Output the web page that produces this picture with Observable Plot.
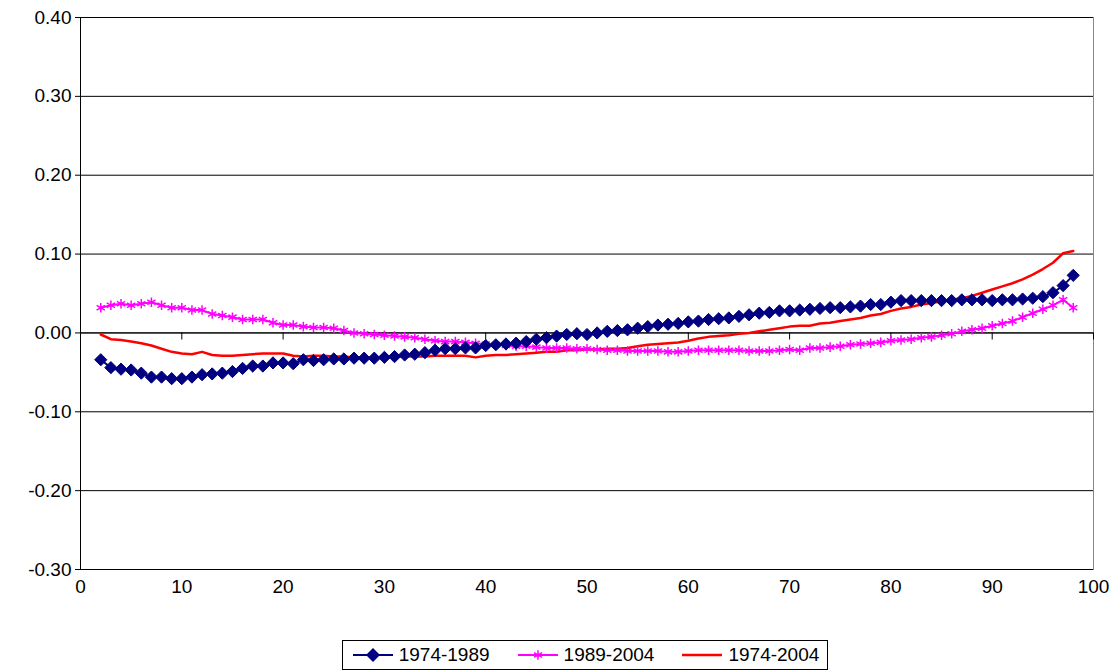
<!DOCTYPE html>
<html>
<head>
<meta charset="utf-8">
<script src="https://cdn.jsdelivr.net/npm/d3@7"></script>
<script src="https://cdn.jsdelivr.net/npm/@observablehq/plot@0.6"></script>
<style>
  body { margin: 0; background: white; font-family: "Liberation Sans", Arial, sans-serif; }
  #legend { display: flex; justify-content: center; margin-top: 40px; padding-left: 50px; }
  #legend .box { border: 1px solid black; display: flex; gap: 26px; padding: 3px 8px; font-size: 19px; }
  #legend .item { display: flex; align-items: center; gap: 4px; }
</style>
</head>
<body>
<div id="chart"></div>
<div id="legend"></div>
<script>
let percentiles = d3.range(2, 99); // 2..98

let s7489 = [-0.034,-0.044,-0.046,-0.047,-0.051,-0.056,-0.056,-0.058,-0.058,-0.056,-0.053,-0.052,-0.051,-0.049,-0.045,-0.042,-0.042,-0.038,-0.038,-0.039,
  -0.034,-0.035,-0.034,-0.033,-0.033,-0.032,-0.032,-0.032,-0.031,-0.030,-0.028,-0.027,-0.025,-0.022,-0.020,-0.020,-0.019,-0.019,-0.016,-0.015,
  -0.014,-0.013,-0.011,-0.008,-0.006,-0.004,-0.002,-0.001,-0.002,0.000,0.002,0.003,0.004,0.006,0.008,0.010,0.011,0.012,0.014,0.015,
  0.017,0.018,0.019,0.021,0.023,0.025,0.026,0.028,0.028,0.029,0.030,0.031,0.032,0.032,0.033,0.034,0.036,0.036,0.039,0.041,
  0.041,0.041,0.041,0.041,0.041,0.042,0.042,0.042,0.041,0.042,0.042,0.043,0.044,0.046,0.051,0.060,0.073];

let s8904 = [0.032,0.035,0.037,0.035,0.037,0.039,0.035,0.032,0.032,0.029,0.029,0.024,0.022,0.020,0.017,0.017,0.017,0.013,0.010,0.010,
  0.008,0.007,0.007,0.006,0.003,0.000,-0.001,-0.002,-0.003,-0.004,-0.005,-0.006,-0.008,-0.010,-0.011,-0.011,-0.012,-0.013,-0.014,-0.015,
  -0.016,-0.017,-0.017,-0.018,-0.019,-0.019,-0.019,-0.020,-0.020,-0.021,-0.022,-0.022,-0.023,-0.023,-0.023,-0.023,-0.024,-0.024,-0.023,-0.022,
  -0.022,-0.022,-0.022,-0.022,-0.023,-0.023,-0.023,-0.022,-0.021,-0.022,-0.019,-0.019,-0.018,-0.017,-0.015,-0.014,-0.013,-0.012,-0.010,-0.009,
  -0.008,-0.006,-0.005,-0.003,-0.001,0.002,0.004,0.006,0.009,0.012,0.015,0.020,0.025,0.030,0.035,0.042,0.032];

let s7404 = [-0.002,-0.008,-0.009,-0.011,-0.013,-0.016,-0.020,-0.024,-0.026,-0.027,-0.024,-0.028,-0.029,-0.029,-0.028,-0.027,-0.026,-0.026,-0.026,-0.029,
  -0.030,-0.029,-0.029,-0.030,-0.030,-0.031,-0.031,-0.031,-0.031,-0.030,-0.030,-0.030,-0.030,-0.029,-0.029,-0.029,-0.029,-0.031,-0.029,-0.028,
  -0.028,-0.027,-0.026,-0.025,-0.024,-0.024,-0.022,-0.022,-0.021,-0.021,-0.020,-0.020,-0.019,-0.017,-0.015,-0.014,-0.013,-0.012,-0.010,-0.007,
  -0.005,-0.004,-0.003,-0.001,0.000,0.002,0.004,0.006,0.008,0.009,0.009,0.012,0.013,0.015,0.017,0.019,0.022,0.024,0.028,0.031,
  0.033,0.036,0.038,0.040,0.042,0.044,0.047,0.051,0.055,0.059,0.063,0.068,0.074,0.081,0.089,0.101,0.104];

let yTicks = [-0.3, -0.2, -0.1, 0, 0.1, 0.2, 0.3, 0.4];
let xTicks = d3.range(0, 101, 10);

const a = percentiles.map((x, i) => ({ x, y: s7489[i] }));
const b = percentiles.map((x, i) => ({ x, y: s8904[i] }));
const c = percentiles.map((x, i) => ({ x, y: s7404[i] }));

const navy = "#000080", magenta = "#ff00ff", red = "#ff0000";

let chart = Plot.plot({
  width: 1120,
  height: 600,
  marginLeft: 80,
  marginRight: 27,
  marginTop: 17,
  marginBottom: 31,
  style: { fontFamily: "Liberation Sans, Arial, sans-serif", fontSize: "19px", color: "black" },
  x: { domain: [0, 100] },
  y: { domain: [-0.3, 0.4] },
  marks: [
    Plot.frame({ stroke: "#888" }),
    Plot.ruleY(yTicks, { stroke: "black", strokeWidth: 1 }),
    Plot.ruleX([0], { stroke: "black" }),
    Plot.ruleY([0], { stroke: "black" }),
    Plot.ruleX(xTicks, { y1: 0, y2: -0.009, stroke: "black" }),
    Plot.axisY({ ticks: yTicks, tickFormat: d => d3.format(".2f")(d).replace("−", "-"), tickSize: 5, tickPadding: 4, label: null }),
    Plot.axisX({ ticks: xTicks, tickSize: 0, tickPadding: 10, label: null }),
    Plot.line(c, { x: "x", y: "y", stroke: red, strokeWidth: 2.5 }),
    Plot.line(b, { x: "x", y: "y", stroke: magenta, strokeWidth: 2 }),
    Plot.dot(b, { x: "x", y: "y", symbol: "asterisk", stroke: magenta, r: 4.5, strokeWidth: 1.5 }),
    Plot.line(a, { x: "x", y: "y", stroke: navy, strokeWidth: 2 }),
    Plot.dot(a, { x: "x", y: "y", symbol: "diamond2", fill: navy, stroke: navy, strokeWidth: 1, r: 5.5 }),
  ]
});
document.getElementById("chart").append(chart);

// legend
const items = [
  { label: "1974-1989", color: navy, sym: "diamond" },
  { label: "1989-2004", color: magenta, sym: "asterisk" },
  { label: "1974-2004", color: red, sym: null },
];
const box = d3.select("#legend").append("div").attr("class", "box");
items.forEach(it => {
  const d = box.append("div").attr("class", "item");
  const s = d.append("svg").attr("width", 44).attr("height", 14);
  s.append("line").attr("x1", 2).attr("x2", 42).attr("y1", 7).attr("y2", 7)
    .attr("stroke", it.color).attr("stroke-width", it.sym ? 2 : 2.5);
  if (it.sym === "diamond") s.append("path").attr("d", "M22,0L29,7L22,14L15,7Z").attr("fill", it.color);
  if (it.sym === "asterisk") s.append("path").attr("d", d3.symbol(d3.symbolAsterisk, 60)()).attr("transform", "translate(22,7)")
    .attr("stroke", it.color).attr("stroke-width", 1.5).attr("fill", "none");
  d.append("span").text(it.label);
});
</script>
</body>
</html>
